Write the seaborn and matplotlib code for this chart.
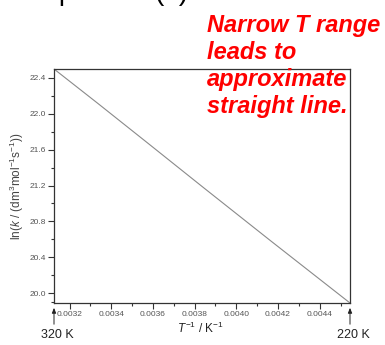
import numpy as np
import matplotlib
matplotlib.use("Agg")
import matplotlib.pyplot as plt
import seaborn as sns

# data: ln k at a few temperatures (K)
temps = [320, 300, 280, 260, 240, 220]
lnk = [22.50, 22.12, 21.68, 21.17, 20.58, 19.89]

yticks = [20.0, 20.4, 20.8, 21.2, 21.6, 22.0, 22.4]
xticks = [0.0032, 0.0034, 0.0036, 0.0038, 0.0040, 0.0042, 0.0044]

note_lines = ["Narrow T range", "leads to", "approximate", "straight line."]

sns.set_style("ticks")
plt.rcParams["font.family"] = ["Liberation Sans", "DejaVu Sans"]
plt.rcParams["mathtext.fontset"] = "custom"
plt.rcParams["mathtext.rm"] = "Liberation Sans"
plt.rcParams["mathtext.it"] = "Liberation Sans:italic"

W, H = 385, 345
fig = plt.figure(figsize=(W / 100, H / 100), dpi=100)
ax = fig.add_axes([54 / W, 1 - 303 / H, 296 / W, 234 / H])

inv_T = 1.0 / np.array(temps, dtype=float)
sns.lineplot(x=inv_T, y=lnk, color="#8a8a8a", linewidth=0.8, ax=ax)

ax.set_xlim(1 / 320, 1 / 220)
ax.set_ylim(19.89, 22.50)
ax.set_xticks(xticks)
ax.set_xticklabels([f"{v:.4f}" for v in xticks])
ax.set_yticks(yticks)
ax.set_yticklabels([f"{v:.1f}" for v in yticks])
ax.set_yticks([19.9, 20.2, 20.6, 21.0, 21.4, 21.8, 22.2], minor=True)
ax.set_xticks([0.0033, 0.0035, 0.0037, 0.0039, 0.0041, 0.0043, 0.0045], minor=True)

ax.tick_params(which="major", direction="out", length=4, width=0.8,
               labelsize=6, colors="#333333", labelcolor="#555555", pad=2)
ax.tick_params(which="minor", direction="out", length=2, width=0.8, colors="#333333")
for s in ax.spines.values():
    s.set_color("#333333")
    s.set_linewidth(0.9)

ax.set_ylabel(r"ln($\it{k}$ / (dm$^{3}$mol$^{-1}$s$^{-1}$))", fontsize=8.5,
              color="#444444", labelpad=2)
ax.set_xlabel("")

def px(x, y):
    return x / W, 1 - y / H

# x label and temperature markers
fig.text(*px(200, 333), r"$\it{T}^{-1}$ / K$^{-1}$", fontsize=8.5,
         ha="center", va="baseline", color="#222222")
fig.text(*px(57, 338), "320 K", fontsize=9, ha="center", va="baseline", color="#222222")
fig.text(*px(353, 338), "220 K", fontsize=9, ha="center", va="baseline", color="#222222")
for xa in (54, 350):
    fig.add_artist(matplotlib.patches.FancyArrowPatch(
        px(xa, 327), px(xa, 305), transform=fig.transFigure,
        arrowstyle="-|>,head_length=3,head_width=1.2", color="#222222",
        linewidth=0.7, mutation_scale=1))

# heading cut off at the top of the slide (only descenders visible)
fig.text(*px(-11, 0), "Example", fontsize=20, ha="left", va="baseline", color="black")
fig.text(*px(154, 0), "(b)", fontsize=20, ha="left", va="baseline", color="black")

# red note
for i, line in enumerate(note_lines):
    fig.text(*px(207, 32 + 27 * i), line, fontsize=17, fontweight="bold",
             fontstyle="italic", color="#ff0000", ha="left", va="baseline")

fig.savefig("out.png", dpi=100)
